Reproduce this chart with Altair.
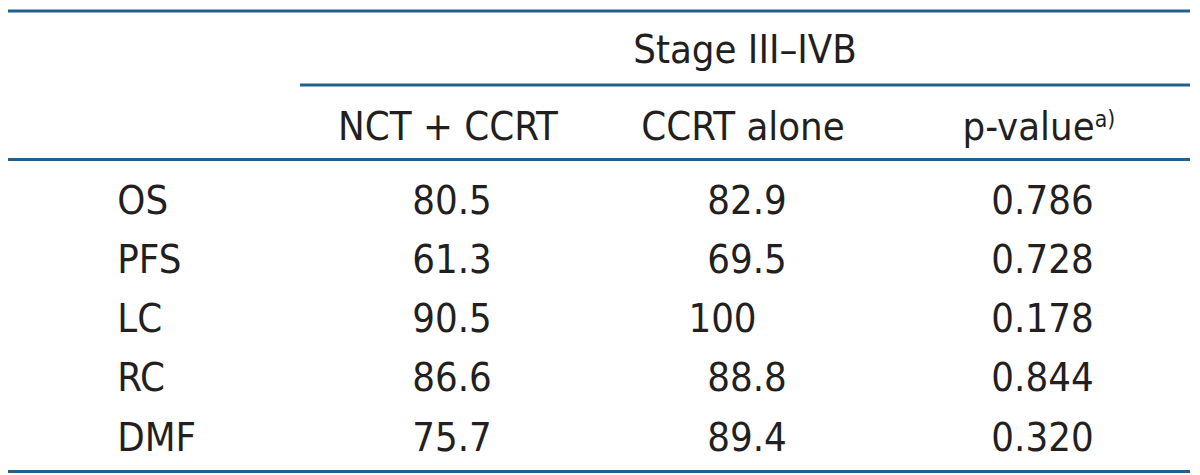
import altair as alt
import pandas as pd

# ---- table content ----
group_title = "Stage III\u2013IVB"
col_headers = ["NCT + CCRT", "CCRT alone", "p-value"]
footnote_mark = "a)"
rows = ["OS", "PFS", "LC", "RC", "DMF"]
nct_ccrt = ["80.5", "61.3", "90.5", "86.6", "75.7"]
ccrt_alone = ["82.9", "69.5", "100", "88.8", "89.4"]
p_values = ["0.786", "0.728", "0.178", "0.844", "0.320"]

df = pd.DataFrame({
    "row": rows,
    "nct": nct_ccrt,
    "ccrt": ccrt_alone,
    "p": p_values,
})

FONT = "DejaVu Sans Condensed, Liberation Sans Narrow, sans-serif"
TXT = "#231f20"
LINE = "#21618f"
FS = 40

W, H = 1192, 467

yenc = alt.Y("row:N", sort=rows,
             scale=alt.Scale(domain=rows, range=[206, 444], padding=0),
             axis=None)

base = alt.Chart(df)

def col_text(field, x, align="left", flt=None):
    c = base
    if flt is not None:
        c = c.transform_filter(flt)
    return c.mark_text(font=FONT, fontSize=FS, color=TXT, align=align,
                       baseline="alphabetic").encode(
        x=alt.value(x), y=yenc, text=f"{field}:N")

labels = col_text("row", 110)
c1 = col_text("nct", 407)
c2 = col_text("ccrt", 704, flt="datum.ccrt != '100'")
c2b = col_text("ccrt", 685, flt="datum.ccrt == '100'")
c3 = col_text("p", 990)

def header(text, x, y, align="center", size=FS):
    return alt.Chart(pd.DataFrame({"t": [text]})).mark_text(
        font=FONT, fontSize=size, color=TXT, align=align, baseline="alphabetic"
    ).encode(x=alt.value(x), y=alt.value(y), text="t:N")

h_group = header(group_title, 742, 54)
h1 = header(col_headers[0], 443, 131)
h2 = header(col_headers[1], 740, 131)
h3 = header(col_headers[2], 961, 131, align="left")
h3s = header(footnote_mark, 1094, 118, align="left", size=23)

def hline(y, x1, x2):
    return alt.Chart(pd.DataFrame({"k": [0]})).mark_rule(
        color=LINE, strokeWidth=3).encode(
        x=alt.value(x1), x2=alt.value(x2), y=alt.value(y))

lines = [hline(1.5, 0, 1190), hline(76, 294, 1190),
         hline(151, 0, 1190), hline(465, 0, 1190)]

chart = alt.layer(*lines, h_group, h1, h2, h3, h3s,
                  labels, c1, c2, c2b, c3).properties(
    width=W, height=H, padding=0, autosize=alt.AutoSizeParams(type="none"),
    background="white"
).configure_view(stroke=None)

chart.save("out.html", embed_options={"renderer": "svg", "actions": False})
